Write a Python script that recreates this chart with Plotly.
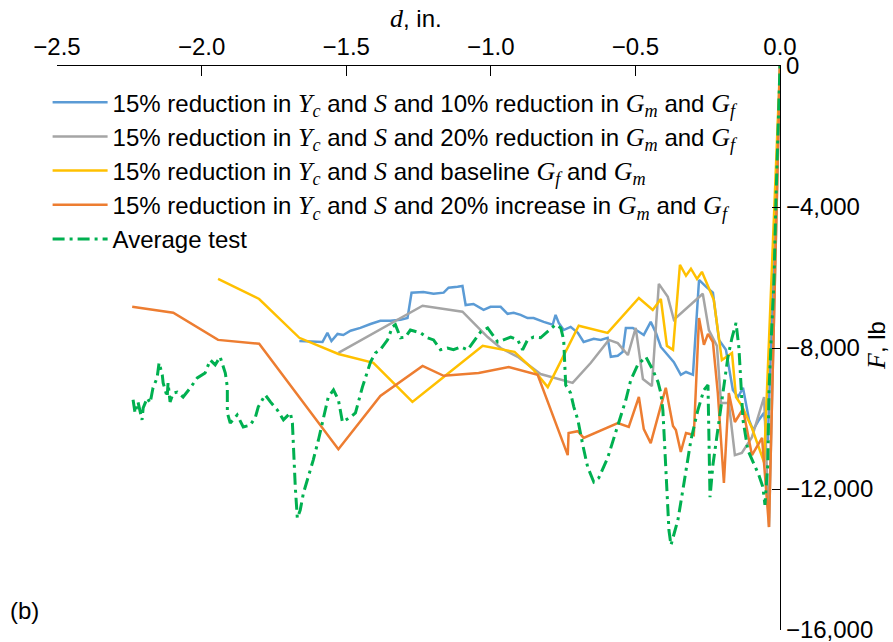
import plotly.graph_objects as go

# ---- data (d in inches, F in lb) ----
blue_x = [-1.662, -1.582, -1.565, -1.551, -1.530, -1.510, -1.485, -1.451, -1.416, -1.382, -1.347, -1.312,
          -1.288, -1.274, -1.233, -1.198, -1.163, -1.146, -1.115, -1.098, -1.087, -1.060, -1.025, -1.001,
          -0.966, -0.942, -0.921, -0.897, -0.873, -0.852, -0.817, -0.786, -0.776, -0.765, -0.748, -0.724,
          -0.699, -0.679, -0.644, -0.620, -0.596, -0.585, -0.561, -0.544, -0.533, -0.509, -0.488, -0.471,
          -0.447, -0.429, -0.412, -0.388, -0.367, -0.343, -0.325, -0.301, -0.280, -0.256, -0.232, -0.211,
          -0.187, -0.163, -0.145, -0.128, -0.107, -0.093, -0.073, -0.055, -0.042, 0.0]
blue_y = [-7800, -7830, -7570, -7800, -7600, -7630, -7510, -7430, -7320, -7230, -7230, -7200,
          -7150, -6430, -6410, -6460, -6430, -6290, -6260, -6240, -6780, -6750, -6920, -6830,
          -6830, -7030, -7000, -7060, -7150, -7150, -7260, -7340, -7060, -7290, -7490, -7400,
          -7570, -7830, -7740, -7770, -7710, -8250, -8220, -8110, -7430, -7430, -7540, -7630,
          -7260, -7570, -7970, -8200, -8400, -8760, -8680, -8760, -6070, -6260, -6430, -7770,
          -8050, -9190, -9390, -9130, -10040, -10330, -10040, -9840, -10610, 0]

gray_x = [-1.527, -1.236, -1.098, -1.011, -0.966, -0.907, -0.828, -0.717, -0.654, -0.592, -0.561, -0.526,
          -0.499, -0.474, -0.443, -0.419, -0.388, -0.367, -0.267, -0.246, -0.218, -0.204, -0.177, -0.156,
          -0.132, -0.097, -0.055, -0.038, 0.0]
gray_y = [-8140, -6800, -6970, -7690, -8000, -8250, -8740, -8990, -8420, -7770, -7860, -8200,
          -7430, -8880, -9080, -6180, -6550, -7200, -6460, -7490, -7940, -9560, -9560, -11040,
          -10980, -10530, -9390, -13080, 0]

yellow_x = [-1.943, -1.801, -1.662, -1.527, -1.406, -1.271, -1.163, -1.028, -0.918, -0.852, -0.803, -0.696,
            -0.596, -0.488, -0.440, -0.412, -0.391, -0.370, -0.346, -0.325, -0.308, -0.287, -0.270, -0.229,
            -0.201, -0.166, -0.152, -0.132, -0.097, -0.055, 0.0]
yellow_y = [-6040, -6610, -7710, -8170, -8420, -9530, -8820, -7940, -8110, -8620, -9110, -7370,
            -7570, -6580, -6920, -6610, -7940, -8050, -5640, -5950, -5750, -6040, -5840, -6630,
            -8340, -8140, -9390, -9640, -10270, -11240, 0]

orange_x = [-2.240, -2.098, -1.943, -1.801, -1.527, -1.382, -1.236, -1.163, -1.042, -0.938, -0.838, -0.734,
            -0.731, -0.699, -0.679, -0.561, -0.523, -0.488, -0.471, -0.447, -0.395, -0.370, -0.360, -0.343,
            -0.325, -0.298, -0.280, -0.263, -0.249, -0.232, -0.215, -0.194, -0.177, -0.156, -0.128, -0.097,
            -0.062, -0.038, 0.0]
orange_y = [-6830, -7000, -7770, -7880, -10870, -9360, -8510, -8790, -8710, -8540, -8760, -11040,
            -10410, -10360, -10550, -10130, -10240, -9390, -10300, -10700, -9130, -10210, -10330, -10950,
            -10410, -10470, -7150, -7910, -7600, -7830, -9280, -11830, -9280, -10100, -9730, -11040,
            -10550, -13080, 0]

test_x = [-2.237, -2.230, -2.220, -2.206, -2.202, -2.188, -2.178, -2.168, -2.154, -2.147, -2.136, -2.133,
          -2.119, -2.116, -2.109, -2.098, -2.084, -2.064, -2.039, -2.015, -1.988, -1.970, -1.953, -1.936,
          -1.918, -1.911, -1.911, -1.901, -1.877, -1.856, -1.832, -1.814, -1.804, -1.780, -1.762, -1.738,
          -1.717, -1.693, -1.686, -1.683, -1.676, -1.669, -1.659, -1.648, -1.631, -1.614, -1.596, -1.579,
          -1.562, -1.544, -1.527, -1.513, -1.485, -1.468, -1.444, -1.416, -1.399, -1.382, -1.357, -1.340,
          -1.330, -1.312, -1.295, -1.278, -1.260, -1.243, -1.219, -1.198, -1.174, -1.150, -1.129, -1.105,
          -1.080, -1.060, -1.035, -1.011, -0.994, -0.976, -0.956, -0.931, -0.907, -0.890, -0.873, -0.852,
          -0.828, -0.803, -0.776, -0.758, -0.748, -0.741, -0.724, -0.713, -0.699, -0.682, -0.665, -0.644,
          -0.627, -0.596, -0.578, -0.557, -0.533, -0.516, -0.492, -0.464, -0.440, -0.422, -0.412, -0.405,
          -0.398, -0.391, -0.384, -0.377, -0.353, -0.332, -0.308, -0.284, -0.263, -0.249, -0.246, -0.242,
          -0.232, -0.215, -0.197, -0.180, -0.166, -0.152, -0.142, -0.135, -0.128, -0.111, -0.090, -0.073,
          -0.059, -0.052, -0.042, -0.038, -0.031, -0.021, -0.014, -0.007, 0.0]
test_y = [-9470, -9840, -9530, -10040, -9700, -9420, -9560, -9130, -8850, -8420, -8760, -8990,
          -9390, -8990, -9530, -9280, -9250, -9390, -9130, -8850, -8710, -8340, -8480, -8250,
          -8710, -9110, -9840, -10130, -9900, -10240, -10190, -9960, -9670, -9330, -9530, -9760,
          -10040, -9840, -10130, -10810, -11950, -12830, -12600, -12120, -11660, -11180, -10610, -9960,
          -9390, -9190, -9470, -10100, -9960, -9840, -9110, -8400, -8140, -8050, -7770, -7400,
          -7340, -7710, -7690, -7490, -7540, -7570, -7710, -7770, -8050, -8000, -8050, -7970,
          -8050, -7830, -7540, -7430, -7630, -7830, -7770, -7690, -7770, -8050, -7770, -7690,
          -7710, -7540, -7340, -7430, -7770, -9050, -9280, -9670, -10040, -10750, -11380, -11800,
          -11690, -11120, -10640, -10040, -9470, -8910, -8480, -8250, -8620, -8960, -9280, -9760,
          -10810, -11950, -13170, -13590, -12880, -11830, -10610, -9760, -9190, -9050, -10330, -12230,
          -11320, -10330, -9390, -8250, -7710, -7290, -8000, -8990, -10040, -10900, -11270, -11610,
          -11950, -12450, -11270, -9190, -7860, -6150, -3790, -1520, 0]

x_ticks = [-2.5, -2.0, -1.5, -1.0, -0.5, 0.0]
y_ticks = [0, -4000, -8000, -12000, -16000]

SERIF = "'Liberation Serif', 'Times New Roman', serif"


def it(s, size=26):
    return f"<span style=\"font-family:{SERIF};font-size:{size}px\"><i>{s}</i></span>"


Yc = it("Y<sub>c</sub>")
S = it("S")
Gm = it("G<sub>m</sub>")
Gf = it("G<sub>f</sub>")

names = [
    f"15% reduction in {Yc} and {S} and 10% reduction in {Gm} and {Gf}",
    f"15% reduction in {Yc} and {S} and 20% reduction in {Gm} and {Gf}",
    f"15% reduction in {Yc} and {S} and baseline {Gf} and {Gm}",
    f"15% reduction in {Yc} and {S} and 20% increase in {Gm} and {Gf}",
    "Average test",
]
series = [(blue_x, blue_y, "#5B9BD5"), (gray_x, gray_y, "#A5A5A5"),
          (yellow_x, yellow_y, "#FFC000"), (orange_x, orange_y, "#ED7D31")]

fig = go.Figure()
for (xs, ys, c), nm in zip(series, names[:4]):
    fig.add_trace(go.Scatter(x=xs, y=ys, mode="lines", name=nm,
                             line=dict(color=c, width=2.5)))
fig.add_trace(go.Scatter(x=test_x, y=test_y, mode="lines", name=names[4],
                         line=dict(color="#00B050", width=3, dash="12px,5px,3px,5px")))

FONT = "'Liberation Sans', Arial, sans-serif"
fig.update_layout(
    width=893, height=642,
    margin=dict(l=57, r=113, t=66, b=12, autoexpand=False),
    paper_bgcolor="white", plot_bgcolor="white",
    font=dict(family=FONT, size=24, color="black"),
    showlegend=True,
    legend=dict(x=-0.013, y=0.975, xanchor="left", yanchor="top",
                bgcolor="rgba(0,0,0,0)", font=dict(size=24), itemwidth=55,
                tracegroupgap=0),
    xaxis=dict(side="top", range=[-2.5, 0], tickvals=x_ticks, tickformat=".1f",
               showline=True, linecolor="black", linewidth=1.2,
               ticks="inside", ticklen=10, tickcolor="black", automargin=False,
               showgrid=False, zeroline=False, tickfont=dict(size=24)),
    yaxis=dict(side="right", range=[-16000, 0], tickvals=y_ticks, tickformat=",",
               showline=True, linecolor="black", linewidth=1.2,
               ticks="inside", ticklen=8, tickcolor="black", automargin=False,
               ticklabeloverflow="allow",
               showgrid=False, zeroline=False, tickfont=dict(size=24)),
    annotations=[
        dict(text=f"{it('d', 26)}, in.", xref="paper", yref="paper", x=0.497, y=1.085,
             xanchor="center", yanchor="middle", showarrow=False, font=dict(size=24)),
        dict(text=f"{it('F', 26)}, lb", xref="paper", yref="paper", x=1.1325, y=0.505,
             xanchor="center", yanchor="middle", textangle=-90, showarrow=False,
             font=dict(size=24)),
        dict(text="(b)", xref="paper", yref="paper", x=-0.068, y=0.035,
             xanchor="left", yanchor="middle", showarrow=False, font=dict(size=24)),
    ],
)

fig.write_html("out.html")
